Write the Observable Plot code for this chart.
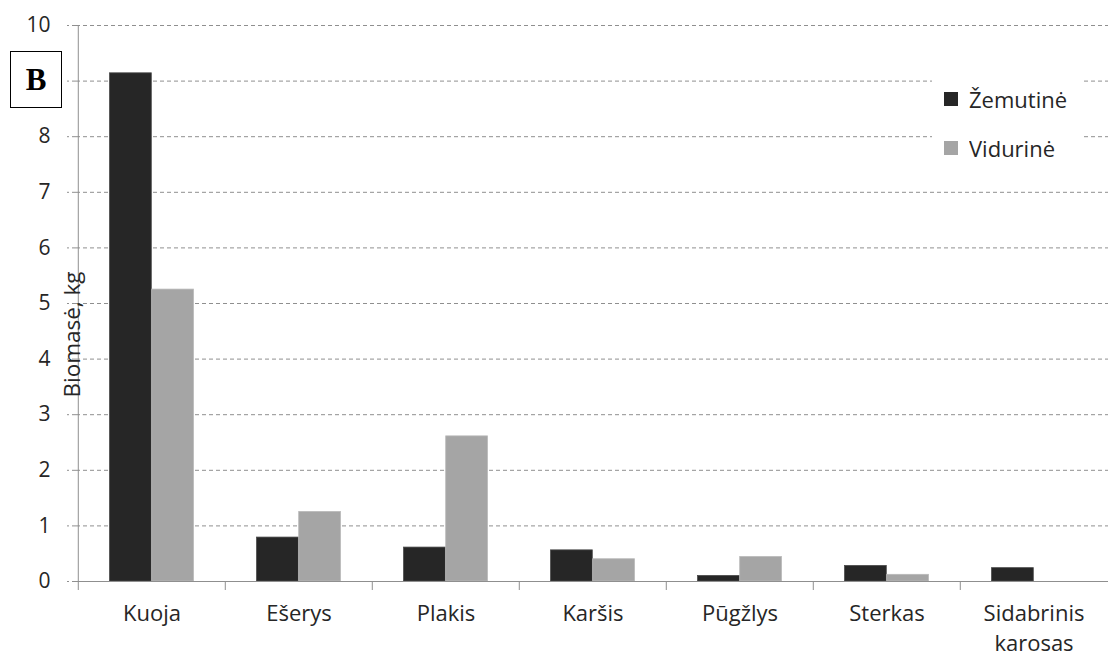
<!DOCTYPE html>
<html>
<head>
<meta charset="utf-8">
<script src="https://cdn.jsdelivr.net/npm/d3@7"></script>
<script src="https://cdn.jsdelivr.net/npm/@observablehq/plot@0.6"></script>
<style>
  body { margin: 0; background: #fff; }
  #wrap { position: relative; width: 1108px; height: 660px; font-family: "Open Sans", sans-serif; color: #262626; }
  #tag {
    position: absolute; left: 10px; top: 51px; width: 50px; height: 55px;
    border: 1.8px solid #000; background: #fff;
    font: bold 31px "Liberation Serif", "Times New Roman", serif; color: #000;
    display: flex; align-items: center; justify-content: center;
  }
  #legend { position: absolute; left: 932px; top: 66px; width: 152px; height: 108px; background: #fff; }
  #legend > * { margin: 0 !important; padding: 18px 0 0 12px; color: #262626; }
  #legend [class$="-swatch"] { margin-bottom: 18px; }
</style>
</head>
<body>
<div id="wrap">
  <div id="chart"></div>
  <div id="tag">B</div>
  <div id="legend"></div>
</div>
<script>
// Fish biomass by species in the lower and middle reaches
const categories = ["Kuoja", "Ešerys", "Plakis", "Karšis", "Pūgžlys", "Sterkas", "Sidabrinis karosas"];
const series = ["Žemutinė", "Vidurinė"];
const zemutine = [9.14, 0.79, 0.61, 0.56, 0.10, 0.28, 0.24];
const vidurine = [5.25, 1.25, 2.61, 0.40, 0.44, 0.12, 0];
const yTicks = [0, 1, 2, 3, 4, 5, 6, 7, 8, 9, 10];
const yTitle = "Biomasė, kg";

const colors = ["#262626", "#a5a5a5"];
const width = 1108, height = 660;
const marginLeft = 76, marginRight = 0, marginTop = 25, marginBottom = 79;
const step = (width - marginLeft - marginRight) / categories.length;
const outer = step * 0.214;   // space between a group and its category edge
const half = step * 0.5;

const grey = "#8f8f8f";

const chart = Plot.plot({
  width, height, marginLeft, marginRight, marginTop, marginBottom,
  style: { fontFamily: "Open Sans, sans-serif", color: "#262626", background: "#fff" },
  x: { domain: categories, padding: 0 },
  y: { domain: [0, 10] },
  color: { domain: series, range: colors },
  marks: [
    Plot.gridY(yTicks, { stroke: grey, strokeOpacity: 1, strokeDasharray: "4,3" }),
    Plot.barY(categories, {
      x: d => d, y: (d, i) => zemutine[i], fill: colors[0],
      stroke: "#4a4a4a", strokeWidth: 0.8, insetLeft: outer, insetRight: half
    }),
    Plot.barY(categories, {
      x: d => d, y: (d, i) => vidurine[i], fill: colors[1],
      stroke: "#b8b8b8", strokeWidth: 0.8, insetLeft: half, insetRight: outer
    }),
    Plot.ruleY([0], { stroke: grey }),
    Plot.ruleX([categories[0]], { y1: 0, y2: 10, dx: -step / 2, stroke: grey }),
    // category boundary ticks
    Plot.axisX({ tickSize: 9, tickFormat: () => "", dx: -step / 2, stroke: grey, label: null }),
    Plot.axisX({
      tickSize: 0, tickPadding: 18, fontSize: 22, lineHeight: 1.36, label: null,
      tickFormat: d => d.replace(" ", "\n"), fill: "#262626"
    }),
    // the 9 label sits under the panel tag, so it is left blank
    Plot.axisY(yTicks, {
      tickSize: 9, tickPadding: 17, fontSize: 21, label: null,
      tickFormat: d => (d === 9 ? "" : String(d)),
      stroke: grey, strokeDasharray: "4,3", fill: "#262626"
    }),
    Plot.text([yTitle], {
      text: d => d, frameAnchor: "left", textAnchor: "middle", rotate: -90, dx: -4, dy: 31,
      fontSize: 22.5, fill: "#262626"
    })
  ]
});
document.getElementById("chart").append(chart);

const legend = Plot.legend({
  color: { domain: series, range: colors },
  legend: "swatches", columns: 1, swatchSize: 14,
  style: { fontSize: "22px", fontFamily: "Open Sans, sans-serif", color: "#262626" }
});
document.getElementById("legend").append(legend);
</script>
</body>
</html>
